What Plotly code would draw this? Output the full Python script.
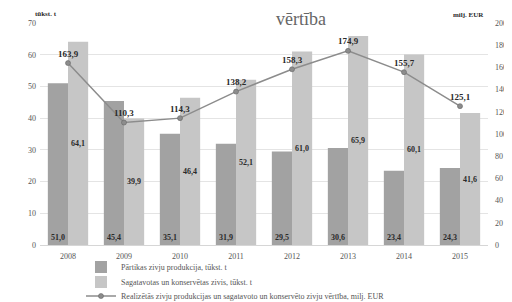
import plotly.graph_objects as go

years = ["2008", "2009", "2010", "2011", "2012", "2013", "2014", "2015"]
food_fish = [51.0, 45.4, 35.1, 31.9, 29.5, 30.6, 23.4, 24.3]
preserved_fish = [64.1, 39.9, 46.4, 52.1, 61.0, 65.9, 60.1, 41.6]
value_meur = [163.9, 110.3, 114.3, 138.2, 158.3, 174.9, 155.7, 125.1]

name_food = "Pārtikas zivju produkcija, tūkst. t"
name_pres = "Sagatavotas un konservētas zivis, tūkst. t"
name_val = "Realizētās zivju produkcijas un sagatavoto un konservēto zivju vērtība, milj. EUR"

def fmt(v):
    return f"{v:.1f}".replace(".", ",")

FONT = "Liberation Serif"
TXT = "#2a2a2a"
TICK = "#555555"

fig = go.Figure()
fig.add_trace(go.Bar(
    x=years, y=food_fish, name=name_food, legend="legend",
    marker=dict(color="#a2a2a2", line=dict(width=0)),
    text=[f"<b>{fmt(v)}</b>" for v in food_fish],
    textposition="inside", insidetextanchor="start",
    textfont=dict(size=8, color=TXT, family=FONT),
    textangle=0,
))
fig.add_trace(go.Bar(
    x=years, y=preserved_fish, name=name_pres, legend="legend2",
    marker=dict(color="#c6c6c6", line=dict(width=0)),
    text=[f"<b>{fmt(v)}</b>" for v in preserved_fish],
    textposition="inside", insidetextanchor="middle",
    textfont=dict(size=8, color=TXT, family=FONT),
    textangle=0,
))
fig.add_trace(go.Scatter(
    x=years, y=value_meur, name=name_val, yaxis="y2", legend="legend3",
    mode="lines+markers+text",
    line=dict(color="#8c8c8c", width=1.5),
    marker=dict(color="#8c8c8c", size=5, symbol="circle",
                line=dict(color="#666666", width=0.6)),
    text=[f"<b>{fmt(v)}</b>" for v in value_meur],
    textposition="top center",
    textfont=dict(size=9, color=TXT, family=FONT),
))

leg_common = dict(orientation="v", x=0.0915, xanchor="left", yanchor="middle",
                  font=dict(size=8, color="#555", family=FONT),
                  bgcolor="rgba(0,0,0,0)", itemwidth=30, borderwidth=0)

fig.update_layout(
    template="none",
    width=512, height=302,
    margin=dict(l=32, r=32, t=15, b=65, autoexpand=False),
    paper_bgcolor="white", plot_bgcolor="white",
    font=dict(family=FONT, size=8, color=TXT),
    barmode="group", bargap=0.28, bargroupgap=0,
    showlegend=True,
    legend=dict(y=-0.099, **leg_common),
    legend2=dict(y=-0.167, **leg_common),
    legend3=dict(y=-0.230, **leg_common),
    xaxis=dict(type="category", showgrid=False, showline=False, ticks="",
               zeroline=False, ticklabelstandoff=5,
               tickfont=dict(size=8, color=TICK)),
    yaxis=dict(range=[0, 70], dtick=10, showgrid=True, gridcolor="#e4e4e4",
               gridwidth=1, zeroline=True, zerolinecolor="#d6d6d6", zerolinewidth=1,
               showline=False, ticks="", ticklabelstandoff=3,
               tickfont=dict(size=8, color=TICK)),
    yaxis2=dict(range=[0, 200], dtick=20, overlaying="y", side="right",
                showgrid=False, zeroline=False, showline=False, ticks="",
                ticklabelstandoff=6, tickfont=dict(size=8, color=TICK)),
)

fig.add_annotation(text="vērtība", xref="paper", yref="paper", x=0.583, y=1.016,
                   xanchor="center", yanchor="middle", showarrow=False,
                   font=dict(size=18, color="#666", family=FONT))
fig.add_annotation(text="<b>tūkst. t</b>", xref="paper", yref="paper", x=-0.0156, y=1.04,
                   xanchor="left", yanchor="middle", showarrow=False,
                   font=dict(size=7, color=TXT, family=FONT))
fig.add_annotation(text="<b>milj. EUR</b>", xref="paper", yref="paper", x=0.9955, y=1.036,
                   xanchor="right", yanchor="middle", showarrow=False,
                   font=dict(size=7, color=TXT, family=FONT))

fig.write_html("out.html")
